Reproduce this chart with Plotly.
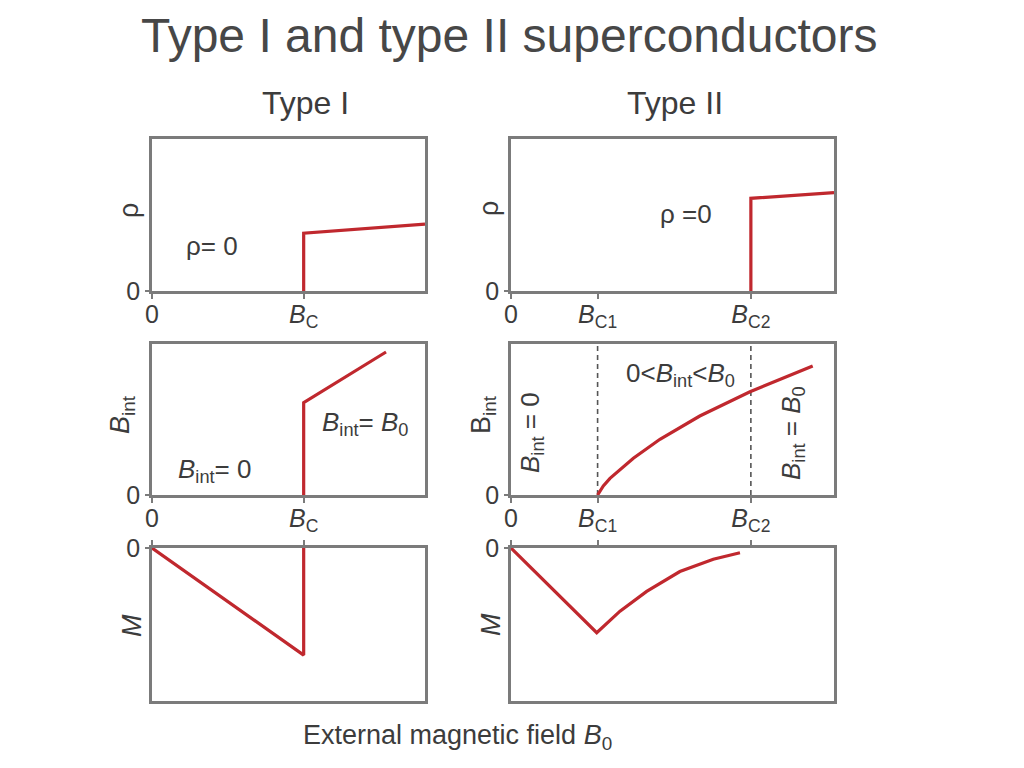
import plotly.graph_objects as go

# ---------------- data ----------------
BC = 1.0          # Type I critical field
BC1 = 1.0         # Type II lower critical field
BC2 = 2.77        # Type II upper critical field
X1_MAX = 1.8
X2_MAX = 3.73

rho1_x = [1.0, 1.0, 1.8]
rho1_y = [0.0, 0.38, 0.44]
bint1_x = [1.0, 1.0, 1.543]
bint1_y = [0.0, 0.611, 0.947]
m1_x = [0.0, 1.0, 1.0]
m1_y = [0.0, -0.70, 0.0]

rho2_x = [2.77, 2.77, 3.73]
rho2_y = [0.0, 0.61, 0.647]
bint2_x = [1.0, 1.066, 1.143, 1.413, 1.72, 2.18, 2.76, 3.484]
bint2_y = [0.0, 0.06, 0.11, 0.243, 0.369, 0.523, 0.684, 0.854]
m2_x = [0.0, 0.99, 1.259, 1.567, 1.95, 2.336, 2.644]
m2_y = [0.0, -0.554, -0.413, -0.284, -0.154, -0.073, -0.031]

ticks1_vals = [0, BC]
ticks1_text = ["0", "<i>B</i><sub>C</sub>"]
ticks2_vals = [0, BC1, BC2]
ticks2_text = ["0", "<i>B</i><sub>C1</sub>", "<i>B</i><sub>C2</sub>"]

# ---------------- styling ----------------
W, H = 1024, 768
OFF = 8  # page body margin in the browser
RED = "#c0282e"
FRAME = "#7b7b7b"
TXT = "#3c3c3c"
FONT = "Liberation Sans, Arial, sans-serif"


def px(x):
    return (x - OFF) / W


def py(y):
    return 1 - (y - OFF) / H


colL = [px(152), px(425)]
colR = [px(511), px(834)]
rowT = [py(291), py(139)]
rowM = [py(495), py(344)]
rowB = [py(701), py(548)]

fig = go.Figure()

panels = [
    ("x", "y", rho1_x, rho1_y),
    ("x2", "y2", rho2_x, rho2_y),
    ("x3", "y3", bint1_x, bint1_y),
    ("x4", "y4", bint2_x, bint2_y),
    ("x5", "y5", m1_x, m1_y),
    ("x6", "y6", m2_x, m2_y),
]

# dashed guide lines in the Type II B_int panel
for xv in [BC1, BC2]:
    fig.add_trace(go.Scatter(x=[xv, xv], y=[0, 1], xaxis="x4", yaxis="y4", mode="lines",
                             line=dict(color="#555555", width=1.6, dash="5px,4px"),
                             hoverinfo="skip", showlegend=False))

for xa, ya, xs, ys in panels:
    fig.add_trace(go.Scatter(x=xs, y=ys, xaxis=xa, yaxis=ya, mode="lines",
                             line=dict(color=RED, width=3.2), showlegend=False,
                             hoverinfo="skip"))

tickfont = dict(family=FONT, size=25, color=TXT)


def xax(domain, rng, anchor, vals, text, side="bottom", labels=True):
    return dict(domain=domain, range=rng, anchor=anchor, side=side,
                tickvals=vals, ticktext=text, showticklabels=labels,
                ticks="outside", ticklen=5, tickwidth=1.5, tickcolor=FRAME,
                ticklabelstandoff=-6,
                showline=True, mirror=True, linecolor=FRAME, linewidth=2.5,
                showgrid=False, zeroline=False, tickfont=tickfont, fixedrange=True,
                automargin=False)


def yax(domain, rng, anchor):
    return dict(domain=domain, range=rng, anchor=anchor,
                tickvals=[0], ticktext=["0"],
                ticks="outside", ticklen=4, tickwidth=1.5, tickcolor=FRAME,
                showline=True, mirror=True, linecolor=FRAME, linewidth=2.5,
                showgrid=False, zeroline=False, tickfont=tickfont, fixedrange=True,
                automargin=False)


fig.update_layout(
    width=W, height=H, autosize=False,
    margin=dict(l=0, r=0, t=0, b=0, pad=0),
    paper_bgcolor="white", plot_bgcolor="white",
    xaxis=xax(colL, [0, X1_MAX], "y", ticks1_vals, ticks1_text),
    yaxis=yax(rowT, [0, 1], "x"),
    xaxis2=xax(colR, [0, X2_MAX], "y2", ticks2_vals, ticks2_text),
    yaxis2=yax(rowT, [0, 1], "x2"),
    xaxis3=xax(colL, [0, X1_MAX], "y3", ticks1_vals, ticks1_text),
    yaxis3=yax(rowM, [0, 1], "x3"),
    xaxis4=xax(colR, [0, X2_MAX], "y4", ticks2_vals, ticks2_text),
    yaxis4=yax(rowM, [0, 1], "x4"),
    xaxis5=xax(colL, [0, X1_MAX], "y5", ticks1_vals, ticks1_text, side="top", labels=False),
    yaxis5=yax(rowB, [-1, 0], "x5"),
    xaxis6=xax(colR, [0, X2_MAX], "y6", ticks2_vals, ticks2_text, side="top", labels=False),
    yaxis6=yax(rowB, [-1, 0], "x6"),
)


def ann(text, x, y, size, angle=0, color=TXT):
    fig.add_annotation(text=text, x=px(x), y=py(y), xref="paper", yref="paper",
                       showarrow=False, textangle=angle, xanchor="center", yanchor="middle",
                       font=dict(family=FONT, size=size, color=color))


ann("Type I and type II superconductors", 509, 35, 48, color="#474747")
ann("Type I", 305, 103, 32)
ann("Type II", 675, 103, 32)

# y axis titles
ann("ρ", 129, 211, 27, angle=-90)
ann("ρ", 489, 209, 27, angle=-90)
ann("<i>B</i><sub>int</sub>", 122, 415, 27, angle=-90)
ann("B<sub>int</sub>", 483, 415, 27, angle=-90)
ann("<i>M</i>", 132, 626, 27, angle=-90)
ann("<i>M</i>", 491, 625, 27, angle=-90)

# in-panel labels
ann("ρ= 0", 212, 246, 26)
ann("ρ =0", 686, 214, 26)
ann("<i>B</i><sub>int</sub>= <i>B</i><sub>0</sub>", 365, 423, 26)
ann("<i>B</i><sub>int</sub>= 0", 214, 470, 26)
ann("0&lt;<i>B</i><sub>int</sub>&lt;<i>B</i><sub>0</sub>", 680, 374, 26)
ann("<i>B</i><sub>int</sub> = 0", 531, 433, 26, angle=-90)
ann("<i>B</i><sub>int</sub> = <i>B</i><sub>0</sub>", 792, 433, 26, angle=-90)

ann("External magnetic field <i>B</i><sub>0</sub>", 457, 737, 27)

fig.write_html("out.html")
